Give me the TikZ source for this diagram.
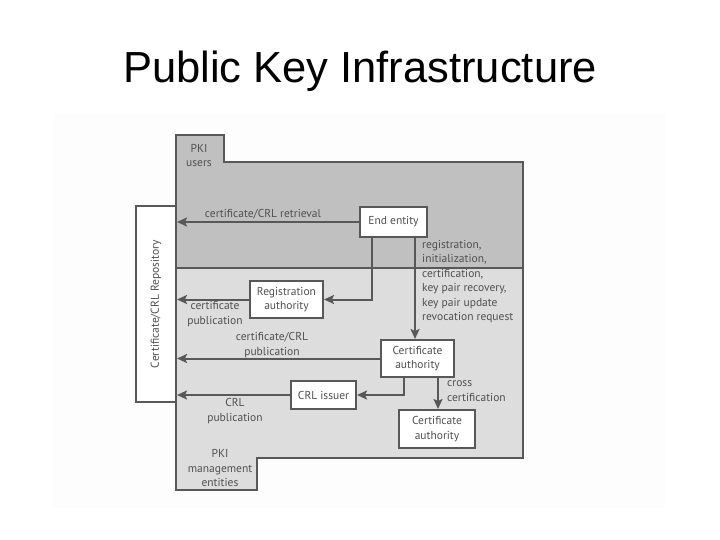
\documentclass[tikz,border=0pt]{standalone}
\usepackage{fontspec}
\setmainfont{Liberation Sans}
\newfontfamily\diafont{PT Sans}
\usetikzlibrary{arrows.meta,positioning}
\definecolor{edgegray}{RGB}{88,88,88}
\definecolor{txtgray}{RGB}{80,80,80}
\definecolor{darkzone}{RGB}{192,192,192}
\definecolor{lightzone}{RGB}{221,221,221}
\definecolor{bggray}{RGB}{253,253,253}
\tikzset{
  box/.style={draw=edgegray, line width=2pt, fill=white, text=txtgray, align=center,
    font=\diafont\fontsize{11.5}{14.5}\selectfont, inner sep=0pt},
  lbl/.style={text=txtgray, font=\diafont\fontsize{11.5}{14.5}\selectfont, inner sep=0pt},
  conn/.style={draw=edgegray, line width=2pt},
  arr/.style={conn, -{Stealth[length=10pt,width=9pt,inset=2pt]}},
  zone/.style={draw=edgegray, line width=2pt},
}
\begin{document}
\begin{tikzpicture}[x=1pt,y=-1pt]
\useasboundingbox (0,0) rectangle (720,540);
\fill[bggray] (53,113) rectangle (665,508);
\node[font=\fontsize{43.5}{50}\selectfont, anchor=base] (title) at (360,83) {Public Key Infrastructure};
% zones
\filldraw[zone, fill=darkzone] (176,135) -- (224,135) -- (224,162) -- (523,162) -- (523,268) -- (176,268) -- cycle;
\filldraw[zone, fill=lightzone] (176,268) -- (523,268) -- (523,458) -- (257,458) -- (257,490) -- (176,490) -- cycle;
% repository
\node[box, minimum width=40pt, minimum height=196pt] (repo) at (156,304) {};
\node[lbl, rotate=90] (repotext) at (repo.center) {Certificate/CRL Repository};
% boxes
\node[box, minimum width=67pt, minimum height=30pt] (ee) at (393.5,222) {End entity};
\node[box, minimum width=73pt, minimum height=37pt] (ra) at (286.5,299.5) {Registration\\authority};
\node[box, minimum width=73pt, minimum height=37pt] (ca) at (417.5,358.5) {Certificate\\authority};
\node[box, minimum width=65pt, minimum height=28pt] (crl) at (323.5,395) {CRL issuer};
\node[box, minimum width=76pt, minimum height=38pt] (ca2) at (437,429) {Certificate\\authority};
% connectors
\draw[arr] (ee.west) -- (repo.east |- ee.west);
\draw[arr] ([xshift=-21.5pt]ee.south) |- (ra.east);
\draw[arr] (ra.west) -- (repo.east |- ra.west);
\draw[arr] ([xshift=21.5pt]ee.south) -- ([xshift=21.5pt]ee.south |- ca.north);
\draw[arr] (ca.west) -- (repo.east |- ca.west);
\draw[arr] ([xshift=-13.5pt]ca.south) |- (crl.east);
\draw[arr] (crl.west) -- (repo.east |- crl.west);
\draw[arr] ([xshift=20.5pt]ca.south) -- ([xshift=20.5pt]ca.south |- ca2.north);
% labels
\node[lbl, align=center] (lusers) at (199,155.5) {PKI\\users};
\node[lbl] (lretr) at (263,214) {certificate/CRL retrieval};
\node[lbl, align=center] (lcertpub) at (215,314) {certificate\\publication};
\node[lbl, align=left, anchor=north west] (lreg) at (422,240) {registration,\\initialization,\\certification,\\key pair recovery,\\key pair update\\revocation request};
\node[lbl, align=center] (lcrlpub) at (272,345) {certificate/CRL\\publication};
\node[lbl, align=center] (lcrl) at (235,411) {CRL\\publication};
\node[lbl, align=left, anchor=west] (lcross) at (447,391) {cross\\certification};
\node[lbl, align=center] (lmgmt) at (220,468) {PKI\\management\\entities};
\end{tikzpicture}
\end{document}
